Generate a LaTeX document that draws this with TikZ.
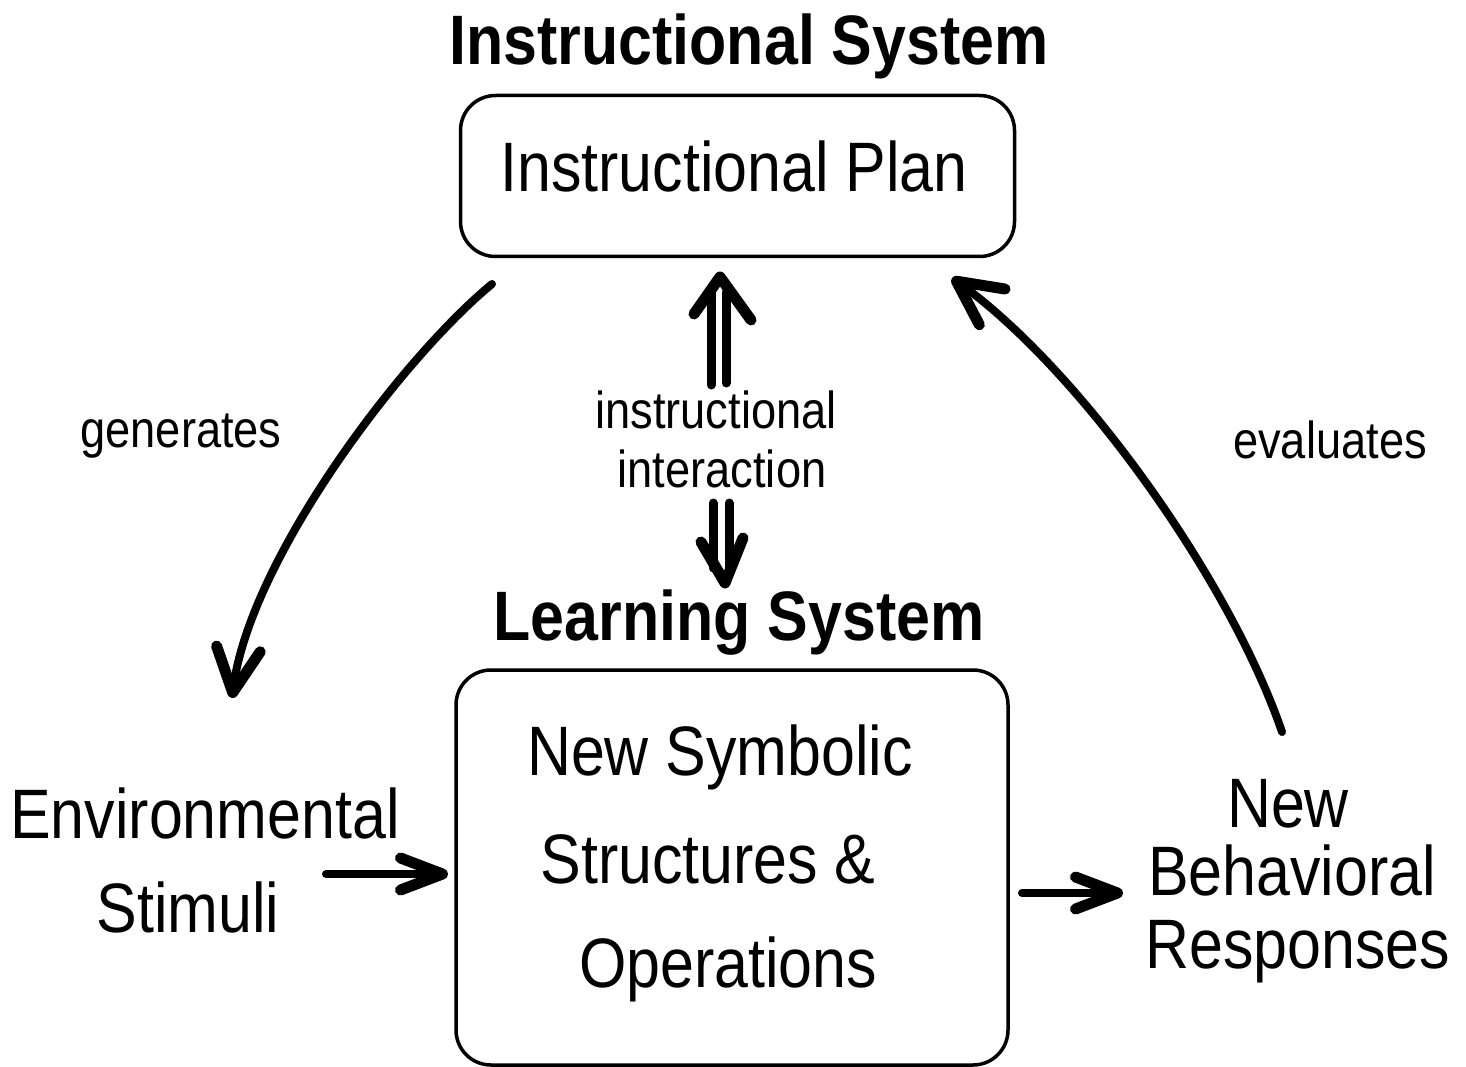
\documentclass[tikz,border=0pt]{standalone}
\usepackage{fontspec}
\setmainfont{Liberation Sans}[FakeStretch=0.87]
\usetikzlibrary{arrows.meta}
\begin{document}
\begin{tikzpicture}[x=1pt,y=-1pt,
  box/.style={draw, line width=3.5pt, rounded corners=35pt, inner sep=0pt},
  big/.style={font=\fontsize{70}{84}\selectfont, anchor=base, inner sep=0pt},
  ttl/.style={font=\fontsize{70}{84}\selectfont\bfseries, anchor=base, inner sep=0pt},
  small/.style={font=\fontsize{52}{59}\selectfont, anchor=base, inner sep=0pt},
  stroke/.style={line width=8pt, line cap=round, line join=round},
  headstroke/.style={line width=11pt, line cap=round, line join=round},
  curvearrow/.style={stroke, -{Straight Barb[length=44pt,width=44pt,round,line width=11pt]}},
  flatarrow/.style={stroke, -{Straight Barb[length=42pt,width=32pt,round,line width=11pt]}},
]
\useasboundingbox (0,0) rectangle (1466,1067);

% boxes
\node[box, minimum width=554pt, minimum height=161pt] (plan) at (737.5,176) {};
\node[box, minimum width=552pt, minimum height=395pt] (learn) at (732,867.5) {};

% titles and box texts
\node[ttl] (isys) at (749,65) {Instructional System};
\node[big] (plantxt) at (734,192) {Instructional Plan};
\node[ttl] (lsys) at (739,640) {Learning System};
\node[big] (nss1) at (720,775) {New Symbolic};
\node[big] (nss2) at (708,883) {Structures \&};
\node[big] (nss3) at (728,987) {Operations};

% side texts
\node[big] (env1) at (205,838) {Environmental};
\node[big] (env2) at (188,932) {Stimuli};
\node[big] (nbr1) at (1288,827) {New};
\node[big] (nbr2) at (1292,895) {Behavioral};
\node[big] (nbr3) at (1298,968) {Responses};

% labels
\node[small] (gen) at (181,447) {generates};
\node[small] (ev) at (1330,458) {evaluates};
\node[small] (ii1) at (716,428) {instructional};
\node[small] (ii2) at (722,487) {interaction};

% coordinates for connector ends
\coordinate (gS) at (492,284);
\coordinate (gE) at (232,698);
\coordinate (eS) at (1282,732);
\coordinate (eE) at (952,278);
\coordinate (sS) at (326,874);
\coordinate (sE) at (448,874);
\coordinate (rS) at (1022,893);
\coordinate (rE) at (1123,893);

% curved arrows
\draw[curvearrow] (gS) .. controls (400,360) and (250,560) .. (gE);
\draw[curvearrow] (eS) .. controls (1230,580) and (1080,370) .. (eE);

% horizontal arrows
\draw[flatarrow] (sS) -- (sE);
\draw[flatarrow] (rS) -- (rE);

% double arrow up
\coordinate (upTip) at (720,277);
\coordinate (upL) at (694,314);
\coordinate (upR) at (751,320);
\draw[stroke, line width=9pt] (711,385) -- (711,292);
\draw[stroke, line width=9pt] (726,383) -- (726,292);
\draw[headstroke] (upL) -- (upTip) -- (upR);

% double arrow down
\coordinate (dnTip) at (725,583);
\coordinate (dnL) at (701,542);
\coordinate (dnR) at (743,538);
\draw[stroke, line width=9pt] (713,503) -- (713,568);
\draw[stroke, line width=9pt] (729,503) -- (729,568);
\draw[headstroke] (dnL) -- (dnTip) -- (dnR);
\end{tikzpicture}
\end{document}
